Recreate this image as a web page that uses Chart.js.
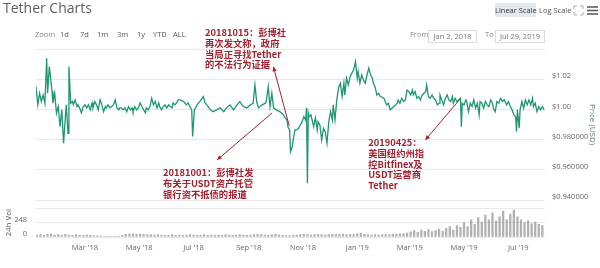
<!DOCTYPE html>
<html><head><meta charset="utf-8">
<script src="https://cdn.jsdelivr.net/npm/chart.js@4"></script>
<style>
html,body{margin:0;padding:0;background:#fff;}
#wrap{position:relative;width:600px;height:268px;overflow:hidden;font-family:"Open Sans",sans-serif;}
canvas{position:absolute;left:0;}
.t{position:absolute;white-space:nowrap;line-height:1;}
.box{position:absolute;border:1px solid #dcdcdc;box-sizing:border-box;font-size:7.5px;color:#777;text-align:center;line-height:11px;}
</style></head><body>
<div id="wrap">
<canvas id="price" width="600" height="268" style="top:0"></canvas>
<canvas id="vol" width="600" height="73" style="top:195px"></canvas>
<div class="t" style="left:3px;top:1px;font-size:14px;color:#5e5e5e;">Tether Charts</div>
<div class="t" style="left:35px;top:31px;font-size:7.5px;color:#888;">Zoom</div>
<div class="t" style="left:60px;top:31px;font-size:7.5px;color:#555;">1d</div>
<div class="t" style="left:80px;top:31px;font-size:7.5px;color:#555;">7d</div>
<div class="t" style="left:97px;top:31px;font-size:7.5px;color:#555;">1m</div>
<div class="t" style="left:117px;top:31px;font-size:7.5px;color:#555;">3m</div>
<div class="t" style="left:137px;top:31px;font-size:7.5px;color:#555;">1y</div>
<div class="t" style="left:153px;top:31px;font-size:7.5px;color:#555;">YTD</div>
<div class="t" style="left:173px;top:31px;font-size:7.5px;color:#555;">ALL</div>
<div class="t" style="left:410px;top:31px;font-size:7.5px;color:#888;">From</div>
<div class="box" style="left:428px;top:30px;width:49px;height:13px;">Jan 2, 2018</div>
<div class="t" style="left:485px;top:31px;font-size:7.5px;color:#888;">To</div>
<div class="box" style="left:495px;top:30px;width:50px;height:13px;">Jul 29, 2019</div>
<div class="t" style="left:495px;top:3px;width:41px;height:14px;background:#e4e7ec;font-size:7.5px;color:#333;text-align:center;line-height:14px;">Linear Scale</div>
<div class="t" style="left:539px;top:3px;font-size:7.5px;color:#555;line-height:14px;">Log Scale</div>
<svg style="position:absolute;left:573px;top:5px" width="11" height="11" viewBox="0 0 11 11" fill="none" stroke="#aaa" stroke-width="1">
<path d="M1 4V1h3M7 1h3v3M10 7v3H7M4 10H1V7"/></svg>
<svg style="position:absolute;left:587px;top:6px" width="11" height="9" viewBox="0 0 11 9" stroke="#555" stroke-width="1.6">
<path d="M0 1h11M0 4.5h11M0 8h11"/></svg>
</div>
<script>
// ---------- data ----------
const startDate = '2018-01-02';
const priceDays = [3,5,7,9,11,13,15,16,18,20,21,22,24,26,28,30,32,34,36,37,39,40,42,44,
45,47,49,50,52,54,56,58,60,62,64,66,67,69,71,73,75,77,79,81,82,84,86,88,90,92,94,96,97,99,101,103,105,107,109,111,112,114,116,118,120,122,124,126,127,129,131,133,135,137,139,141,142,144,146,148,150,152,154,156,157,159,161,163,
165,169,172,174,176,178,179,181,184,187,191,193,195,199,202,206,210,214,217,221,225,229,232,236,240,244,247,249,251,253,257,261,262,264,266,268,270,273,277,281,283,285,286,288,289,291,292,294,296,298,300,302,304,306,307,308,309,310,312,315,317,319,320,322,324,326,328,330,332,334,336,337,339,341,343,345,347,349,350,352,354,356,358,360,362,364,365,367,369,371,373,375,377,379,381,382,384,386,388,390,394,397,399,401,403,405,407,409,410,412,414,416,418,420,422,424,426,427,429,431,433,435,437,439,441,442,444,446,448,450,452,454,456,457,459,461,463,465,467,469,471,472,474,476,478,480,481,482,484,486,487,489,491,493,495,497,499,501,502,504,506,508,510,512,514,516,517,519,521,523,525,527,529,531,532,534,536,538,540,542,543,544,546,547,549,551,553,555,557,559,561,562,564,566,568,570,572,574];
const priceValues = [1.0151,1.003,1.0107,1.0052,1.0096,1.0041,1.0339,1.0107,1.0283,1.0174,1.012,1.0041,1.0107,0.9975,1.0019,0.9886,0.9997,0.9776,0.9952,1.003,0.9842,1.0283,1.0041,1.0052,
1.003,1.0063,1.0019,1.003,1.001,0.9977,1.0019,1.003,1.001,1.003,0.9997,1.0043,1.001,1.0052,1.003,0.9997,1.0063,1.003,0.9985,1.0019,1.001,1.003,1.001,1.0019,1.003,1.0063,1.001,0.9997,1.001,1.001,0.9997,1.001,0.9985,1.0019,0.9997,1.001,0.9985,1.0019,0.9997,1.001,1.0043,1.0019,0.9997,0.9977,1.001,0.9997,1.0019,1.0074,1.003,1.0052,1.001,1.0043,1.0019,0.9997,1.0019,1.003,1.001,1.003,1.0019,1.001,1.0043,1.003,1.0043,1.0063,
1.0063,1.0052,1.003,1.0043,1.0019,0.9997,0.982,0.9997,1.003,1.0052,1.0085,1.0043,1.003,0.9997,0.9985,0.9997,1.001,0.9985,1.001,1.003,0.9997,1.003,1.0052,1.0019,1.001,1.003,1.0041,1.0162,1.0052,1.001,1.003,1.0041,1.0063,1.0151,1.0019,1.0107,1.001,0.9997,0.9985,0.9964,0.9944,0.993,0.9886,0.9864,0.9721,0.9754,0.9798,0.9864,0.9864,0.9875,0.9897,0.9919,0.9952,0.993,1.001,0.9511,0.9977,0.9952,0.9964,0.9886,0.9944,0.9864,0.9919,0.9897,0.9798,0.9875,0.9853,0.9776,0.9919,0.9985,0.993,1.003,0.993,1.0063,1.0142,1.0174,1.0085,1.0174,1.0096,1.0207,1.0162,1.0217,1.024,1.0262,1.0317,1.0207,1.025,1.0174,1.0228,1.0195,1.0174,1.0228,1.0273,1.0228,1.0207,1.0174,1.0151,1.0096,1.0107,1.0085,1.0074,1.003,1.0041,0.9997,1.0008,1.0019,1.003,1.0041,1.0063,1.0041,1.0074,1.0052,1.0063,1.0129,1.0118,1.0096,1.0129,1.0096,1.0118,1.0074,1.0085,1.0063,1.0096,1.0107,1.0118,1.0162,1.0085,1.0074,1.0096,1.0074,1.0063,1.003,1.0041,1.0096,1.0063,1.003,1.0074,1.0096,1.0063,1.0052,1.0085,1.0041,1.0074,1.0052,1.0063,1.0074,0.9886,1.0041,1.003,1.0063,1.0052,0.9985,1.0041,1.0019,1.0063,1.0008,1.0041,0.9964,1.0052,1.0041,1.0008,1.0052,1.003,1.0019,1.0063,1.0041,1.0008,0.9985,1.0052,1.0041,1.0074,1.0052,1.0063,1.0041,1.003,1.0052,1.0019,0.9997,0.9964,0.9952,0.9853,0.9997,0.9875,0.9997,1.0052,1.0008,1.0063,1.003,1.0063,1.003,1.0074,1.0019,1.0041,0.9985,1.0019,0.9997,1.0019,0.9997];

const volumeStepDays = 4;
const volumeValues = [30,35,40,30,45,50,35,40,30,45,35,30,40,35,30,35,
30,25,20,15,10,10,8,10,12,30,45,50,55,45,
50,45,40,40,35,40,35,30,35,40,30,35,30,35,40,
35,30,35,40,30,35,30,35,30,40,35,30,35,40,35,30,
35,40,45,40,35,30,40,45,35,30,25,20,30,35,40,
45,40,35,40,45,40,35,40,45,40,45,50,40,45,40,
55,70,45,40,35,40,35,40,45,40,45,50,55,60,70,
90,110,80,120,100,130,95,110,140,100,150,180,120,200,170,
250,180,300,220,340,260,380,300,420,280,350,450,300,400,470,
350,300,250,280,230,260,220,200];

const priceTickValues = [0.94,0.96,0.98,1.00,1.02,1.04];
const priceTickLabels = ['$0.940000','$0.960000','$0.980000','$1.00','$1.02',''];
const volumeTickValues = [0,248,496];
const volumeTickLabels = ['0','248',''];
const monthTickDays = [58,119,180,242,303,364,423,484,545];
const monthTickLabels = ["Mar '18","May '18","Jul '18","Sep '18","Nov '18","Jan '19","Mar '19","May '19","Jul '19"];

const annotations = [
  {lines:['20181015：彭博社','再次发文称，政府','当局正寻找Tether','的不法行为证据'], day:193, value:1.0507, tail:[287.6,0.9891], head:[269.8,1.0282]},
  {lines:['20181001：彭博社发','布关于USDT资产托管','银行资不抵债的报道'], day:145.8, value:0.958, tail:[268.4,0.9977], head:[206.6,0.9666]},
  {lines:['20190425：','美国纽约州指','控Bitfinex及','USDT运营商','Tether'], day:376.4, value:0.9778, tail:[478.8,1.0063], head:[440.6,0.9798]}
];

// ---------- charts ----------
const X_MIN = 3, X_MAX = 575;
const GRID = '#e8e8e8';
const LINE = '#1e9672';
const RED = '#a3202e';

const annotationPlugin = {
  id: 'notes',
  afterDraw(chart) {
    const ctx = chart.ctx, xs = chart.scales.x, ys = chart.scales.y;
    ctx.save();
    ctx.fillStyle = RED; ctx.strokeStyle = RED;
    ctx.font = 'bold 9.3px "Noto Sans CJK SC", sans-serif';
    ctx.textBaseline = 'middle';
    annotations.forEach(a => {
      const x = xs.getPixelForValue(a.day), y = ys.getPixelForValue(a.value);
      a.lines.forEach((l, i) => ctx.fillText(l, x, y + i * 10.6));
      const x1 = xs.getPixelForValue(a.tail[0]), y1 = ys.getPixelForValue(a.tail[1]);
      const x2 = xs.getPixelForValue(a.head[0]), y2 = ys.getPixelForValue(a.head[1]);
      ctx.lineWidth = 1;
      ctx.beginPath(); ctx.moveTo(x1, y1); ctx.lineTo(x2, y2); ctx.stroke();
      const ang = Math.atan2(y2 - y1, x2 - x1), L = 5, w = 0.45;
      ctx.beginPath();
      ctx.moveTo(x2, y2);
      ctx.lineTo(x2 - L * Math.cos(ang - w), y2 - L * Math.sin(ang - w));
      ctx.lineTo(x2 - L * Math.cos(ang + w), y2 - L * Math.sin(ang + w));
      ctx.closePath(); ctx.fill();
    });
    ctx.restore();
  }
};

new Chart(document.getElementById('price'), {
  type: 'line',
  data: { datasets: [{
    data: priceDays.map((d, i) => ({x: d, y: priceValues[i]})),
    borderColor: LINE, borderWidth: 1.3, pointRadius: 0, tension: 0, fill: false
  }]},
  options: {
    responsive: false, animation: false, devicePixelRatio: 1,
    layout: { padding: { left: 36, top: 49, bottom: 68, right: 0 } },
    plugins: { legend: { display: false }, tooltip: { enabled: false } },
    scales: {
      x: { type: 'linear', min: X_MIN, max: X_MAX, display: false },
      y: {
        position: 'right', min: 0.94, max: 1.04,
        afterBuildTicks: s => { s.ticks = priceTickValues.map(v => ({value: v})); },
        afterFit: s => { s.width = 55; },
        grid: { color: GRID, drawTicks: false },
        border: { display: false },
        ticks: {
          padding: 7, labelOffset: -3, color: '#666',
          font: { family: 'Open Sans', size: 7.5 },
          callback: (v, i) => priceTickLabels[i]
        },
        title: { display: true, text: 'Price (USD)', color: '#4f7f69',
          font: { family: 'Open Sans', size: 8 }, padding: { top: 3.2, bottom: 0 } }
      }
    }
  },
  plugins: [annotationPlugin]
});

new Chart(document.getElementById('vol'), {
  type: 'bar',
  data: { datasets: [{
    data: volumeValues.map((v, i) => ({x: i * volumeStepDays, y: v})),
    backgroundColor: 'rgba(125,125,125,0.6)', barThickness: 1.6, borderWidth: 0
  }]},
  options: {
    responsive: false, animation: false, devicePixelRatio: 1,
    layout: { padding: { left: 0, top: 8, bottom: 0, right: 55 } },
    plugins: { legend: { display: false }, tooltip: { enabled: false } },
    scales: {
      x: {
        type: 'linear', min: X_MIN, max: X_MAX, offset: false,
        afterBuildTicks: s => { s.ticks = monthTickDays.map(v => ({value: v})); },
        afterFit: s => { s.height = 31; },
        grid: { display: false, drawTicks: false },
        border: { display: false },
        ticks: { padding: 6, color: '#666', maxRotation: 0, autoSkip: false,
          font: { family: 'Open Sans', size: 7.5 },
          callback: (v, i) => monthTickLabels[i] }
      },
      y: {
        position: 'left', min: 0, max: 496,
        afterBuildTicks: s => { s.ticks = volumeTickValues.map(v => ({value: v})); },
        afterFit: s => { s.width = 36; },
        grid: { color: GRID, drawTicks: false },
        border: { display: false },
        ticks: { padding: 9, labelOffset: -3, color: '#666',
          font: { family: 'Open Sans', size: 7.5 },
          callback: (v, i) => volumeTickLabels[i] },
        title: { display: true, text: '24h Vol', color: '#555',
          font: { family: 'Open Sans', size: 8 }, padding: { top: 3.7, bottom: 0 } }
      }
    }
  }
});
</script>
</body></html>
